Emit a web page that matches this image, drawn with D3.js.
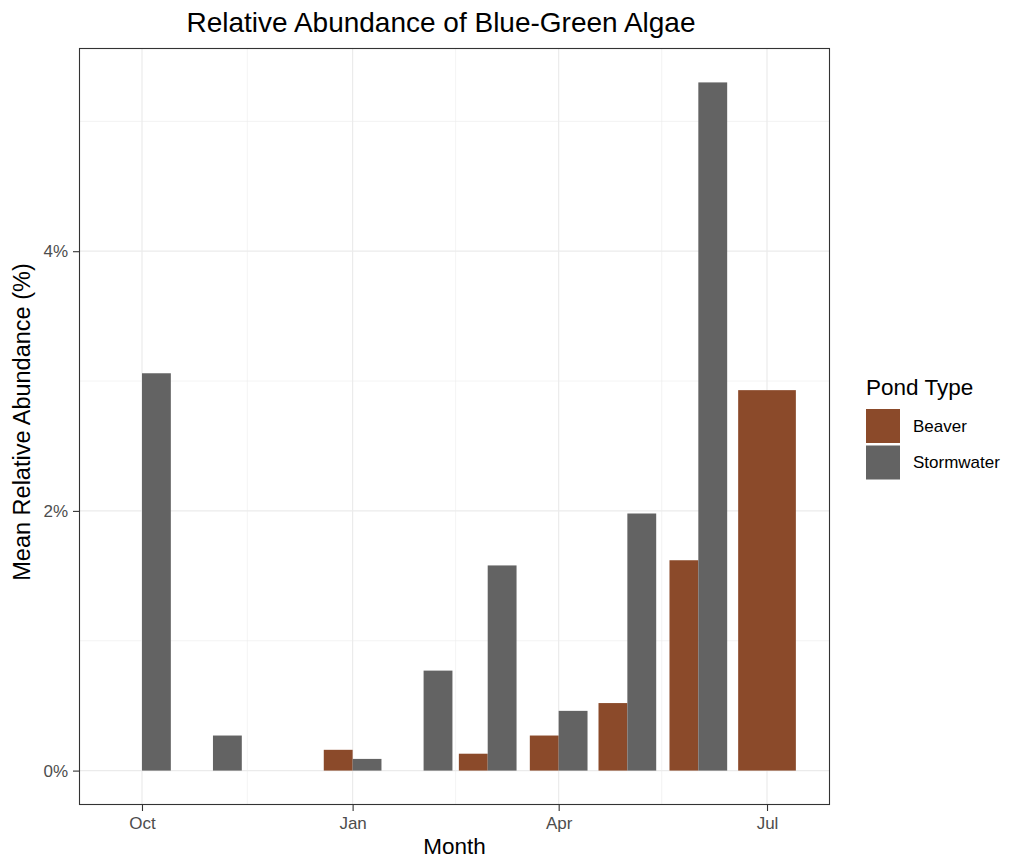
<!DOCTYPE html>
<html><head><meta charset="utf-8">
<script src="https://cdn.jsdelivr.net/npm/d3@7"></script>
<style>body{margin:0;background:#fff;} text{font-family:"Liberation Sans",Arial,sans-serif;}</style>
</head><body>
<svg id="c" width="1012" height="860"></svg>
<script>
const months = ["2022-10-01","2022-11-01","2023-01-01","2023-02-01","2023-03-01","2023-04-01","2023-05-01","2023-06-01","2023-07-01"];
const beaver =     [0,    0,    0.16, 0,    0.13, 0.27, 0.52, 1.62, 2.93];
const stormwater = [3.06, 0.27, 0.09, 0.77, 1.58, 0.46, 1.98, 5.30, null];
const series = ["Beaver","Stormwater"];
const colors = ["#8b4a2a","#636363"];
const yTicks = [0,2,4];
const yMinor = [1,3,5];
const xTickDates = ["2022-10-01","2023-01-01","2023-04-01","2023-07-01"];
const xMinorDates = ["2022-11-16","2023-02-15","2023-05-16"];
const xTickLabels = ["Oct","Jan","Apr","Jul"];

const svg = d3.select("#c");
const P = {l:79, r:830, t:48, b:805};
const parse = d3.utcParse("%Y-%m-%d");
const dates = months.map(parse);
const DAY = 86400000;
const barDays = 0.9*28; // dodge width in days
const rows = [];
dates.forEach((d,i)=>{
  const vals = [beaver[i], stormwater[i]];
  const n = vals.filter(v=>v!==null).length;
  let k=0;
  vals.forEach((v,j)=>{
    if(v===null) return;
    const w = barDays/n;
    const start = +d - barDays/2*DAY + k*w*DAY;
    rows.push({s:j, x0:new Date(start), x1:new Date(start+w*DAY), v});
    k++;
  });
});
const xmin = d3.min(rows,r=>+r.x0), xmax = d3.max(rows,r=>+r.x1);
const xpad = (xmax-xmin)*0.05;
const x = d3.scaleUtc().domain([new Date(xmin-xpad), new Date(xmax+xpad)]).range([P.l,P.r]);
const ymax = d3.max(rows,r=>r.v);
const y = d3.scaleLinear().domain([-0.05*ymax, 1.05*ymax]).range([P.b,P.t]);

const g = svg.append("g");
g.append("rect").attr("x",P.l).attr("y",P.t).attr("width",P.r-P.l).attr("height",P.b-P.t).attr("fill","#fff");
yMinor.forEach(v=>g.append("line").attr("x1",P.l).attr("x2",P.r).attr("y1",y(v)).attr("y2",y(v)).attr("stroke","#ebebeb").attr("stroke-width",0.6));
xMinorDates.map(parse).forEach(d=>g.append("line").attr("x1",x(d)).attr("x2",x(d)).attr("y1",P.t).attr("y2",P.b).attr("stroke","#ebebeb").attr("stroke-width",0.6));
yTicks.forEach(v=>g.append("line").attr("x1",P.l).attr("x2",P.r).attr("y1",y(v)).attr("y2",y(v)).attr("stroke","#ebebeb").attr("stroke-width",1.2));
xTickDates.map(parse).forEach(d=>g.append("line").attr("x1",x(d)).attr("x2",x(d)).attr("y1",P.t).attr("y2",P.b).attr("stroke","#ebebeb").attr("stroke-width",1.2));
g.selectAll("rect.bar").data(rows).join("rect").attr("class","bar")
  .attr("x",r=>x(r.x0)).attr("width",r=>x(r.x1)-x(r.x0))
  .attr("y",r=>y(r.v)).attr("height",r=>y(0)-y(r.v))
  .attr("fill",r=>colors[r.s]);
g.append("rect").attr("x",P.l+0.5).attr("y",P.t+0.5).attr("width",P.r-P.l-1).attr("height",P.b-P.t-1).attr("fill","none").attr("stroke","#333").attr("stroke-width",1.1);

const yAxis = d3.axisLeft(y).tickValues(yTicks).tickFormat(d=>d+"%").tickSize(6).tickPadding(5);
const ya = svg.append("g").attr("transform",`translate(${P.l},0)`).call(yAxis);
ya.select(".domain").remove();
ya.selectAll("line").attr("stroke","#333").attr("stroke-width",1.1);
ya.selectAll("text").attr("fill","#4d4d4d").style("font-size","17px").style("font-family","Liberation Sans, Arial, sans-serif");
const xAxis = d3.axisBottom(x).tickValues(xTickDates.map(parse)).tickFormat((d,i)=>xTickLabels[i]).tickSize(6).tickPadding(6);
const xa = svg.append("g").attr("transform",`translate(0,${P.b})`).call(xAxis);
xa.select(".domain").remove();
xa.selectAll("line").attr("stroke","#333").attr("stroke-width",1.1);
xa.selectAll("text").attr("fill","#4d4d4d").style("font-size","17px").style("font-family","Liberation Sans, Arial, sans-serif");

svg.append("text").attr("x",441).attr("y",32).attr("text-anchor","middle").style("font-size","28px").attr("fill","#000").text("Relative Abundance of Blue-Green Algae");
svg.append("text").attr("x",(P.l+P.r)/2).attr("y",854).attr("text-anchor","middle").style("font-size","22.5px").attr("fill","#000").text("Month");
svg.append("text").attr("transform",`translate(30,422) rotate(-90)`).attr("text-anchor","middle").style("font-size","23.5px").attr("fill","#000").text("Mean Relative Abundance (%)");

const lg = svg.append("g");
lg.append("text").attr("x",866).attr("y",395).style("font-size","22.5px").attr("fill","#000").text("Pond Type");
series.forEach((s,i)=>{
  lg.append("rect").attr("x",866).attr("y",409+i*36.5).attr("width",34).attr("height",34).attr("fill",colors[i]);
  lg.append("text").attr("x",913).attr("y",426+i*36.5).attr("dy","0.35em").style("font-size","17px").attr("fill","#000").text(s);
});
</script>
</body></html>
